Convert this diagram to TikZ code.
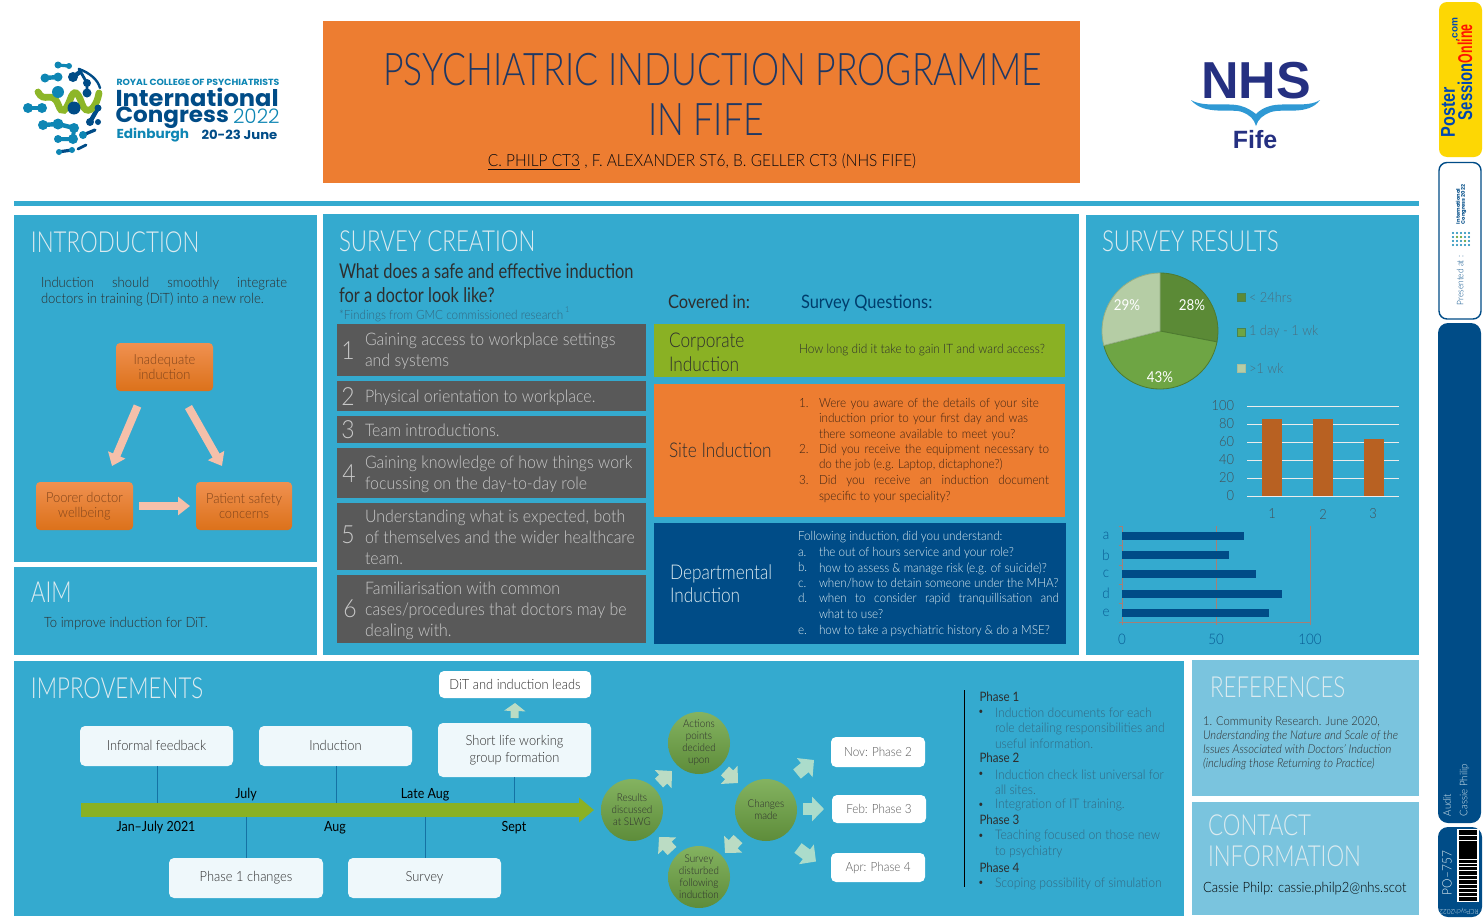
\documentclass[tikz,border=0pt]{standalone}
\usepackage{fontspec}
\setmainfont{Lato}[UprightFont=* Light,ItalicFont=* Light Italic,BoldFont=* Bold,FakeStretch=0.92]
\newfontfamily\headf{Lato}[UprightFont=* Light,FakeStretch=0.77]
\newfontfamily\titlef{Lato}[UprightFont=* Light,FakeStretch=0.79]
\newfontfamily\midf{Lato}[UprightFont=* Light,FakeStretch=0.85]
\newfontfamily\regf{Lato}[FakeStretch=0.81]
\newfontfamily\regb{Lato}[FakeStretch=0.89]
\newfontfamily\boldsans{Poppins}[UprightFont=* Bold,FakeStretch=1.05]
\newfontfamily\lightsans{Poppins}[UprightFont=* Light]
\newfontfamily\heavy{Liberation Sans}[UprightFont=* Bold]
\usetikzlibrary{arrows.meta,calc,shapes.geometric}
\newcommand\fsl[2]{\fontsize{\fpeval{#1*0.5}pt}{\fpeval{#2*0.5}pt}\selectfont}
\definecolor{panel}{HTML}{34AACF}
\definecolor{panellight}{HTML}{7AC4DE}
\definecolor{orng}{HTML}{ED7D31}
\definecolor{gbar}{HTML}{595959}
\definecolor{grn}{HTML}{8AB124}
\definecolor{nblue}{HTML}{004C87}
\definecolor{titlenavy}{HTML}{1F3864}
\definecolor{pale}{HTML}{DCEBF0}
\definecolor{dtext}{HTML}{2E2E2E}
\definecolor{brownt}{HTML}{3E2414}
\definecolor{bartext}{HTML}{C8C8C8}
\definecolor{mutedblue}{HTML}{336780}
\definecolor{legendtxt}{HTML}{4A6E80}
\definecolor{axtxt}{HTML}{444F57}
\definecolor{axred}{HTML}{A57F76}
\definecolor{nhsnavy}{HTML}{253081}
\definecolor{teal}{HTML}{0E86B4}
\definecolor{logogreen}{HTML}{8DB628}
\definecolor{barorange}{HTML}{B86122}
\definecolor{pieA}{HTML}{5B8A36}
\definecolor{pieB}{HTML}{6EA544}
\definecolor{pieC}{HTML}{B5CDA5}
\definecolor{pieedge}{HTML}{4E7A30}
\definecolor{paleorange}{HTML}{F5C0AA}
\definecolor{palegreen}{HTML}{BBDCC4}
\definecolor{palegreenb}{HTML}{ABDCCB}
\tikzset{
  x=0.5pt,y=-0.5pt,
  every node/.style={inner sep=0pt,outer sep=0pt},
  box/.style={draw=none,minimum width=0pt,anchor=north west},
  lbl/.style={anchor=west,align=left},
  ctr/.style={anchor=center,align=center},
  heading/.style={anchor=west,text=pale,font={\headf\fsl{29}{32}}},
  graytxt/.style={anchor=west,align=left,text=bartext,font=\fsl{17.3}{21}},
  graynum/.style={anchor=center,text=bartext,font=\fsl{25}{25}},
  q/.style={anchor=north west,align=justify,text=brownt,font=\fsl{12.7}{15.5}},
  qw/.style={anchor=north west,align=justify,text=pale,font=\fsl{12.7}{15.5}},
  wbox/.style={rounded corners=2.5pt,fill=#1,text=dtext,font=\fsl{14}{16.5},align=center},
  wbox/.default={white!92!panel},
  orbox/.style={rounded corners=2pt,top color=orng!85!white,bottom color=orange!40!orng!90!black,text=orng!55!black,font=\fsl{14}{15.5},align=center},
  gcirc/.style={circle,minimum size=31pt,top color=pieB!85!white,bottom color=pieB!85!black,text=dtext,font=\fsl{10.7}{12},align=center},
  fatA/.style={line width=4pt,draw=paleorange,-{Triangle[length=6pt,width=9pt]}},
  fatB/.style={line width=6pt,draw=#1,-{Triangle[length=6pt,width=12pt]}},
  fatB/.default={palegreen},
  link/.style={draw=nblue!60!panel,line width=0.5pt},
}
\begin{document}
\begin{tikzpicture}
\useasboundingbox (0,0) rectangle (1484,921);
\fill[white] (0,0) rectangle (1484,921);

% ---------- header ----------
\node[box,fill=orng,minimum width=378.5pt,minimum height=81pt] (titlebox) at (323,21) {};
\node[ctr,text=titlenavy,font={\titlef\fsl{45}{50}}] (title1) at (712.5,70) {PSYCHIATRIC INDUCTION PROGRAMME};
\node[ctr,text=titlenavy,font={\titlef\fsl{45}{50}}] (title2) at (706,120) {IN FIFE};
\node[ctr,text=black!85!titlenavy,font=\fsl{16.8}{20}] (authors) at (702,162) {\underline{C. PHILP CT3} , F. ALEXANDER ST6, B. GELLER CT3 (NHS FIFE)};
\fill[panel] (14,201) rectangle (1419,206);

% ---------- RCPsych logo ----------
\begin{scope}[line cap=round]
\draw[teal,line width=1.6pt] (58,65)--(69,66);
\draw[teal,line width=2.2pt] (45,78)--(58,77);
\draw[nblue,line width=2.2pt] (73,77)--(80,72);
\draw[nblue,line width=1.4pt] (79,69)--(87,83)--(87,93);
\draw[nblue,line width=1.2pt] (79,69)..controls (90,73) and (98,80)..(100,88);
\draw[teal,line width=2.2pt] (28,108)--(42,108);
\draw[teal,line width=2.2pt] (43,125)--(58,124)--(74,128);
\draw[teal,line width=2pt] (58,139)--(73,139)--(74,128);
\draw[nblue,line width=2.2pt] (98,108)--(90,122);
\draw[nblue,line width=1.6pt] (58,152)--(72,150);
\draw[nblue,line width=1.4pt] (78,149)--(86,145);
\draw[nblue,line width=1.6pt] (83,135)--(95,130);
\draw[logogreen,line width=3.4pt] (38,92)..controls (44,104) and (52,90)..(58,104)..controls (62,116) and (66,110)..(70,100)..controls (74,88) and (78,92)..(82,104)..controls (86,116) and (96,110)..(99,93);
\end{scope}
\foreach \px/\py/\pr/\pc in {58/65/3.5/teal,69/66/3/teal,45/78/4.5/teal,58/77/4.5/teal,73/77/5/nblue,87/83/4/nblue,87/93/4.5/nblue,58/92/6/teal,74/108/6.5/nblue,28/108/5/teal,42/108/5/teal,43/125/5/teal,58/124/5.5/teal,74/128/5/teal,98/108/3.5/nblue,90/122/4/nblue,98/122/3/nblue,83/135/4/teal,73/139/5/teal,58/139/4/teal,59/152/3/teal,72/150/3/teal}
  \fill[\pc] (\px,\py) circle[radius=\pr];
\node[lbl,text=teal,font={\boldsans\fsl{8.9}{10}}] (rcp) at (116.5,82) {ROYAL COLLEGE OF PSYCHIATRISTS};
\node[lbl,text=nblue,font={\boldsans\fsl{23}{23}}] (congress1) at (115.5,97) {International};
\node[lbl,text=nblue,font={\boldsans\fsl{22}{22}}] (congress2) at (115.5,117.5) {Congress};
\node[lbl,text=teal,font={\lightsans\fsl{20}{20}}] (congress3) at (233,116.5) {2022};
\node[lbl,text=teal,font={\boldsans\fsl{13}{16}}] (edin) at (116.5,135) {Edinburgh};
\node[lbl,text=nblue,font={\boldsans\fsl{12.6}{16}}] (dates) at (201.5,135) {20-23 June};

% ---------- NHS Fife logo ----------
\node[ctr,text=nhsnavy,font={\heavy\fsl{52}{54}}] (nhs) at (1256,81) {NHS};
\fill[panel!90!blue] (1191,100) .. controls (1204,116) and (1232,108) .. (1242,112) .. controls (1250,115) and (1254,119) .. (1256,126) .. controls (1258,119) and (1263,115) .. (1271,112) .. controls (1284,108) and (1308,116) .. (1320,100) .. controls (1308,108) and (1284,102) .. (1270,106) .. controls (1263,108) and (1259,111) .. (1256,114) .. controls (1252,111) and (1248,108) .. (1241,106) .. controls (1228,102) and (1204,108) .. (1191,100) -- cycle;
\node[ctr,text=nhsnavy,font={\heavy\fsl{25}{27}}] (fife) at (1255,140) {Fife};

% ---------- panels ----------
\fill[panel] (14,215) rectangle (317,562);
\fill[panel] (14,567) rectangle (317,655);
\fill[panel] (323,214) rectangle (1079,655);
\fill[panel] (1086,215) rectangle (1419,655);
\fill[panel] (14,661) rectangle (1184,916);
\fill[panellight] (1192,660) rectangle (1419,796);
\fill[panellight] (1192,802) rectangle (1419,915);

% ---------- introduction ----------
\node[heading] (h1) at (31,242) {INTRODUCTION};
\node[anchor=north west,align=justify,text width=123pt,text=dtext,font=\fsl{14.2}{16}] (intro) at (41,277) {Induction should smoothly integrate\linebreak doctors in training (DiT) into a new role.};
\node[box,orbox,minimum width=48.5pt,minimum height=24pt,anchor=center] (inad) at (164.5,367) {Inadequate\\induction};
\node[box,orbox,minimum width=48.5pt,minimum height=24pt,anchor=center] (poor) at (84.5,506) {Poorer doctor\\wellbeing};
\node[box,orbox,minimum width=48pt,minimum height=24pt,anchor=center] (pat) at (244,506) {Patient safety\\concerns};
\draw[fatA] ($(inad.south)+(-27,15)$) -- ($(poor.north)+(27.5,-16)$);
\draw[fatA] ($(inad.south)+(24,16)$) -- ($(pat.north)+(-22,-16)$);
\draw[fatA] ($(poor.east)+(6,0)$) -- ($(pat.west)+(-6,0)$);

% ---------- aim ----------
\node[heading] (h2) at (31,592) {AIM};
\node[lbl,text=dtext,font=\fsl{14.2}{16}] (aim) at (44,623.5) {To improve induction for DiT.};

% ---------- survey creation ----------
\node[heading] (h3) at (339,241) {SURVEY CREATION};
\node[lbl,text=dtext,font={\regf\fsl{20.3}{24.5}}] (what) at (339,283) {What does a safe and effective induction\\for a doctor look like?};
\node[lbl,text=mutedblue,font=\fsl{12.7}{14}] (findings) at (339,314) {*Findings from GMC commissioned research\,\raisebox{3.5pt}{\fsl{8}{8}1}};
\node[box,fill=gbar,minimum width=154.5pt,minimum height=26pt] (b1) at (337,324) {};
\node[box,fill=gbar,minimum width=154.5pt,minimum height=15pt] (b2) at (337,381) {};
\node[box,fill=gbar,minimum width=154.5pt,minimum height=13.5pt] (b3) at (337,416) {};
\node[box,fill=gbar,minimum width=154.5pt,minimum height=25pt] (b4) at (337,448) {};
\node[box,fill=gbar,minimum width=154.5pt,minimum height=33.5pt] (b5) at (337,503) {};
\node[box,fill=gbar,minimum width=154.5pt,minimum height=34pt] (b6) at (337,575) {};
\node[graynum] (n1) at (348,351) {1};
\node[graynum] (n2) at (348,397) {2};
\node[graynum] (n3) at (348,430) {3};
\node[graynum] (n4) at (349,474) {4};
\node[graynum] (n5) at (348,535) {5};
\node[graynum] (n6) at (350,609) {6};
\node[graytxt] (t1) at (365,351.5) {Gaining access to workplace settings\\and systems};
\node[graytxt] (t2) at (365,397.5) {Physical orientation to workplace.};
\node[graytxt] (t3) at (365,430.5) {Team introductions.};
\node[graytxt] (t4) at (365,474) {Gaining knowledge of how things work\\focussing on the day-to-day role};
\node[graytxt] (t5) at (365,537.5) {Understanding what is expected, both\\of themselves and the wider healthcare\\team.};
\node[graytxt] (t6) at (365,610.5) {Familiarisation with common\\cases/procedures that doctors may be\\dealing with.};

\node[lbl,text=dtext,font={\regb\fsl{18.5}{20}}] (cov) at (668,302) {Covered in:};
\node[lbl,text=nblue!80!black,font={\regb\fsl{18.5}{20}}] (sq) at (801,303) {Survey Questions:};
\node[box,fill=grn,minimum width=205.5pt,minimum height=26.5pt] (corp) at (654,324) {};
\node[box,fill=orng,minimum width=205.5pt,minimum height=66.5pt] (site) at (654,384) {};
\node[box,fill=nblue,minimum width=206pt,minimum height=60.5pt] (dept) at (654,523) {};
\node[lbl,text=dtext,font={\midf\fsl{20.3}{24}}] (corpl) at (669,352) {Corporate\\Induction};
\node[lbl,text=dtext,font={\midf\fsl{20.3}{24}}] (sitel) at (669,450) {Site Induction};
\node[lbl,text=pale,font={\midf\fsl{20.3}{23}}] (deptl) at (670,583.5) {Departmental\\Induction};
\node[lbl,text=dtext,font=\fsl{12.9}{15.5}] (corpq) at (799,350) {How long did it take to gain IT and ward access?};

\node[q,text width=10pt] (sn1) at (799,398) {\vphantom{d}1.\hfill};
\node[q,text width=115pt,align=left] (sq1) at (819,398) {Were you aware of the details of your site\\induction prior to your first day and was\\there someone available to meet you?};
\node[q,text width=10pt] (sn2) at (799,444) {\vphantom{d}2.\hfill};
\node[q,text width=115pt] (sq2) at (819,444) {Did you receive the equipment necessary to\linebreak do the job (e.g. Laptop, dictaphone?)\hfill};
\node[q,text width=10pt] (sn3) at (799,475.5) {\vphantom{d}3.\hfill};
\node[q,text width=115pt] (sq3) at (819,475.5) {Did you receive an induction document\linebreak specific to your speciality?\hfill};

\node[qw] (dh) at (798,531) {Following induction, did you understand:};
\node[qw,text width=10pt] (da) at (798,547) {\vphantom{d}a.\hfill};
\node[qw,text width=120pt] (dat) at (819,547) {the out of hours service and your role?\hfill};
\node[qw,text width=10pt] (db) at (798,562.5) {\vphantom{d}b.\hfill};
\node[qw,text width=120pt] (dbt) at (819,562.5) {how to assess \& manage risk (e.g. of suicide)?\hfill};
\node[qw,text width=10pt] (dc) at (798,578) {\vphantom{d}c.\hfill};
\node[qw,text width=120pt] (dct) at (819,578) {when/how to detain someone under the MHA?\hfill};
\node[qw,text width=10pt] (dd) at (798,593.5) {\vphantom{d}d.\hfill};
\node[qw,text width=120pt] (ddt) at (819,593.5) {when to consider rapid tranquillisation and\linebreak what to use?\hfill};
\node[qw,text width=10pt] (de) at (798,625) {\vphantom{d}e.\hfill};
\node[qw,text width=120pt] (det) at (819,625) {how to take a psychiatric history \& do a MSE?\hfill};

% ---------- survey results ----------
\node[heading] (h4) at (1102,241) {SURVEY RESULTS};
\begin{scope}[shift={(1160,331)}]
\filldraw[fill=pieA,draw=pieedge,line width=0.4pt] (0,0) -- (0,-58) arc[start angle=90,end angle=-10.8,radius=29pt] -- cycle;
\filldraw[fill=pieB,draw=pieedge,line width=0.4pt] (0,0) -- (56.97,10.9) arc[start angle=-10.8,end angle=-165.6,radius=29pt] -- cycle;
\filldraw[fill=pieC,draw=pieedge!60!white,line width=0.4pt] (0,0) -- (-56.18,14.42) arc[start angle=194.4,end angle=90,radius=29pt,] -- cycle;
\end{scope}
\node[ctr,text=white,font={\regb\fsl{15}{16}}] (p28) at (1192,305) {28\%};
\node[ctr,text=white,font={\regb\fsl{15}{16}}] (p29) at (1127,305) {29\%};
\node[ctr,text=white,font={\regb\fsl{15}{16}}] (p43) at (1160,377) {43\%};
\filldraw[fill=pieA,draw=pieedge!80!panel,line width=0.4pt] (1237,293) rectangle (1245,301);
\filldraw[fill=pieB,draw=pieedge!80!panel,line width=0.4pt] (1237,328.5) rectangle (1245,336.5);
\filldraw[fill=pieC,draw=pieC!80!gray,line width=0.4pt] (1237,364) rectangle (1245,372);
\node[lbl,text=legendtxt,font=\fsl{14}{16}] (l1) at (1249,297) {< 24hrs};
\node[lbl,text=legendtxt,font=\fsl{14}{16}] (l2) at (1249,332) {1 day - 1 wk};
\node[lbl,text=legendtxt,font=\fsl{14}{16}] (l3) at (1249,368) {>1 wk};

\foreach \gy/\gv in {406/100,424/80,442/60,460/40,478/20,496/0}{
  \draw[white!85!gray,line width=0.5pt] (1247,\gy) -- (1399,\gy);
  \node[anchor=east,text=axtxt,font=\fsl{14}{16}] (y\gv) at (1234,\gy) {\gv};
}
\fill[barorange] (1262,419) rectangle (1282,496);
\fill[barorange] (1313,419) rectangle (1333,496);
\fill[barorange] (1364,439) rectangle (1384,496);
\node[ctr,text=axtxt,font=\fsl{14}{16}] (x1) at (1272,514) {1};
\node[ctr,text=axtxt,font=\fsl{14}{16}] (x2) at (1323,514) {2};
\node[ctr,text=axtxt,font=\fsl{14}{16}] (x3) at (1373,514) {3};

\foreach \ax in {1122,1216,1310} \draw[axred,line width=0.5pt] (\ax,526) -- (\ax,625);
\draw[axred,line width=0.5pt] (1122,622) -- (1310,622);
\foreach \ay in {526,545,565,584,603,622} \draw[axred,line width=0.5pt] (1119,\ay) -- (1122,\ay);
\fill[nblue] (1122,532) rectangle (1244,540);
\fill[nblue] (1122,551) rectangle (1229,559);
\fill[nblue] (1122,570) rectangle (1256,578);
\fill[nblue] (1122,590) rectangle (1282,598);
\fill[nblue] (1122,609) rectangle (1269,617);
\foreach \cy/\cl in {536/a,555/b,574/c,593/d,613/e}
  \node[ctr,text=nblue!85!panel,font=\fsl{14.5}{16}] (cat\cl) at (1106,\cy) {\cl};
\foreach \vx/\vl in {1122/0,1216/50,1310/100}
  \node[ctr,text=nblue!85!panel,font=\fsl{14.5}{16}] (val\vl) at (\vx,639.5) {\vl};

% ---------- improvements ----------
\node[heading] (h5) at (31,688) {IMPROVEMENTS};
\node[wbox,minimum width=76.5pt,minimum height=20pt,anchor=north west] (ifb) at (80,726) {\raisebox{0.5pt}{Informal feedback}};
\node[wbox,minimum width=76.5pt,minimum height=20pt,anchor=north west] (ind) at (259,726) {\raisebox{0.5pt}{Induction}};
\node[wbox,minimum width=76.5pt,minimum height=27pt,anchor=north west] (slw) at (438,723) {Short life working\\group formation};
\node[wbox=white,minimum width=76pt,minimum height=13.5pt,anchor=north west] (dil) at (439,671) {DiT and induction leads};
\node[wbox,minimum width=77pt,minimum height=20pt,anchor=north west] (pc) at (169,858) {Phase 1 changes};
\node[wbox,minimum width=76.5pt,minimum height=20pt,anchor=north west] (sur) at (348,858) {Survey};
\coordinate (tlstart) at (81,810);
\coordinate (tlend) at (594,810);
\draw[grn,line width=7pt,-{Triangle[length=7.5pt,width=12pt]}] (tlstart) -- (tlend);
\coordinate (t1a) at (157,803); \coordinate (t2a) at (336,803); \coordinate (t3a) at (514,803);
\coordinate (t4a) at (246,817); \coordinate (t5a) at (425,817);
\draw[link] (t1a) -- (t1a|-ifb.south);
\draw[link] (t2a) -- (t2a|-ind.south);
\draw[link] (t3a) -- (t3a|-slw.south);
\draw[link] (t4a) -- (t4a|-pc.north);
\draw[link] (t5a) -- (t5a|-sur.north);
\node[ctr,text=black,font={\regb\fsl{14}{16}}] (lj) at (246,795) {July};
\node[ctr,text=black,font={\regb\fsl{14}{16}}] (lla) at (425,795) {Late Aug};
\node[ctr,text=black,font={\regb\fsl{14}{16}}] (ljj) at (156,827.5) {Jan–July 2021};
\node[ctr,text=black,font={\regb\fsl{14}{16}}] (la) at (335,827.5) {Aug};
\node[ctr,text=black,font={\regb\fsl{14}{16}}] (ls) at (514,827.5) {Sept};
\draw[line width=4pt,draw=palegreen,-{Triangle[length=4pt,width=10.5pt]}] ($(slw.north)+(0,-5)$) -- ($(dil.south)+(0,5)$);

\node[gcirc] (cact) at (699,743) {Actions\\points\\decided\\upon};
\node[gcirc] (cres) at (632,810) {Results\\discussed\\at SLWG};
\node[gcirc] (cchg) at (766,810) {Changes\\made};
\node[gcirc] (csur) at (699,877) {Survey\\disturbed\\following\\induction};
\draw[fatB] ($(cres)+(27,-27)$) -- ($(cact)+(-27,28)$);
\draw[fatB] ($(cact)+(26,28)$) -- ($(cchg)+(-28,-27)$);
\draw[fatB] ($(cchg)+(-28,29)$) -- ($(csur)+(26,-24)$);
\draw[fatB] ($(csur)+(-27,-26)$) -- ($(cres)+(27,27)$);
\node[wbox=white,text=gbar,minimum width=47pt,minimum height=15pt,anchor=north west,font=\fsl{12.7}{15}] (nov) at (831,737) {Nov: Phase 2};
\node[wbox=white,text=gbar,minimum width=47pt,minimum height=14pt,anchor=north west,font=\fsl{12.7}{15}] (feb) at (832,795) {Feb: Phase 3};
\node[wbox=white,text=gbar,minimum width=47pt,minimum height=14.5pt,anchor=north west,font=\fsl{12.7}{15}] (apr) at (831,853) {Apr: Phase 4};
\draw[fatB=palegreenb] ($(cchg)+(31,-36)$) -- ($(nov.west)+(-17,8)$);
\draw[fatB=palegreenb] ($(cchg.east)+(6,-1)$) -- ($(feb.west)+(-8,0)$);
\draw[fatB=palegreenb] ($(cchg)+(32,38)$) -- ($(apr.west)+(-15,-6)$);

\draw[black,line width=0.5pt] (964,690) -- (964,887);
\foreach \py/\pt in {697/Phase 1,758/Phase 2,820/Phase 3,868/Phase 4}
  \node[lbl,text=dtext,font={\regb\fsl{13}{15}}] (ph\py) at (979.5,\py) {\pt};
\foreach \by in {712,774,805,836,883}
  \node[ctr,text=dtext,font={\regb\fsl{9}{10}}] (bu\by) at (981,\by) {•};
\node[lbl,text=mutedblue,font=\fsl{13.2}{15.5}] (pl1) at (995,728) {Induction documents for each\\role detailing responsibilities and\\useful information.};
\node[lbl,text=mutedblue,font=\fsl{13.2}{15.5}] (pl2) at (995,782) {Induction check list universal for\\all sites.};
\node[lbl,text=mutedblue,font=\fsl{13.2}{15.5}] (pl3) at (995,805) {Integration of IT training.};
\node[lbl,text=mutedblue,font=\fsl{13.2}{15.5}] (pl4) at (995,844) {Teaching focused on those new\\to psychiatry};
\node[lbl,text=mutedblue,font=\fsl{13.2}{15.5}] (pl5) at (995,883.5) {Scoping possibility of simulation};

% ---------- references / contact ----------
\node[heading] (h6) at (1210,687) {REFERENCES};
\node[lbl,text=dtext,font=\fsl{12.2}{14}] (ref) at (1203,743.5) {1. Community Research. June 2020,\\\textit{Understanding the Nature and Scale of the}\\\textit{Issues Associated with Doctors' Induction}\\\textit{(including those Returning to Practice)}};
\node[heading,align=left,font={\headf\fsl{29}{31}}] (h7) at (1208,840.5) {CONTACT\\INFORMATION};
\node[lbl,text=black,font=\fsl{14.2}{16}] (contact) at (1203,888.5) {Cassie Philp: cassie.philp2@nhs.scot};

% ---------- side strip ----------
\fill[yellow!75!orange,rounded corners=4pt] (1439,2) rectangle (1482,157);
\node[anchor=west,rotate=90,text=blue!60!cyan!70!black,font={\heavy\fsl{19}{19}}] (ps1) at (1448,137) {\scalebox{0.85}[1.05]{Poster}};
\node[anchor=west,rotate=90,text=blue!60!cyan!70!black,font={\heavy\fsl{19}{19}}] (ps2) at (1465,120) {\scalebox{0.78}[1.05]{Session}};
\node[anchor=west,rotate=90,text=red!85!orange,font={\heavy\fsl{19}{19}}] (ps3) at (1465,63) {\scalebox{0.65}[1.05]{Online}};
\node[anchor=west,rotate=90,text=blue!60!cyan!70!black,font={\heavy\fsl{10}{10}}] (ps4) at (1455,41) {.com};
\draw[nblue,line width=0.7pt,fill=white,rounded corners=4pt] (1439,162.5) rectangle (1481,319);
\node[anchor=west,rotate=90,text=nblue,font=\fsl{9}{10}] (pres) at (1460,305) {Presented at :};
\foreach \sx in {1453,1457,1461,1465,1469}
  \foreach \sy in {233,237,241,245}
    \fill[teal] (\sx,\sy) circle[radius=1.2];
\fill[logogreen] (1457,237) circle[radius=1.2] (1465,241) circle[radius=1.2] (1461,237) circle[radius=1.2];
\node[anchor=west,rotate=90,text=nblue,font={\boldsans\fsl{5}{5}},align=left] (ssm) at (1461,224) {International\\Congress 2022};
\fill[nblue,rounded corners=5pt] (1438,323) rectangle (1481,823);
\fill[nblue,rounded corners=5pt] (1438,827) rectangle (1482,917);
\node[anchor=west,rotate=90,text=pale,font=\fsl{10.5}{12}] (aud) at (1447,816) {Audit};
\node[anchor=west,rotate=90,text=pale,font=\fsl{10.5}{12}] (cp) at (1464.5,816) {Cassie Philip};
\node[anchor=west,rotate=90,text=pale,font=\fsl{13}{14}] (po) at (1447,895) {PO--757};
\node[anchor=center,rotate=180,text=pale,font=\fsl{7}{8}] (rcy) at (1459,911) {RCPsych2022};
\fill[white] (1457,829) rectangle (1479,902);
\fill[black] (1459,830) rectangle (1477,901);
\foreach \wy/\wh in {835/1,840/0.7,859/0.8,862.5/0.5,866/1,870/0.5,875/0.8,879/0.6,884/1,888/0.7,892/0.5,896/1}
  \fill[white] (1459,\wy) rectangle (1477,\wy+\wh);
\end{tikzpicture}
\end{document}
